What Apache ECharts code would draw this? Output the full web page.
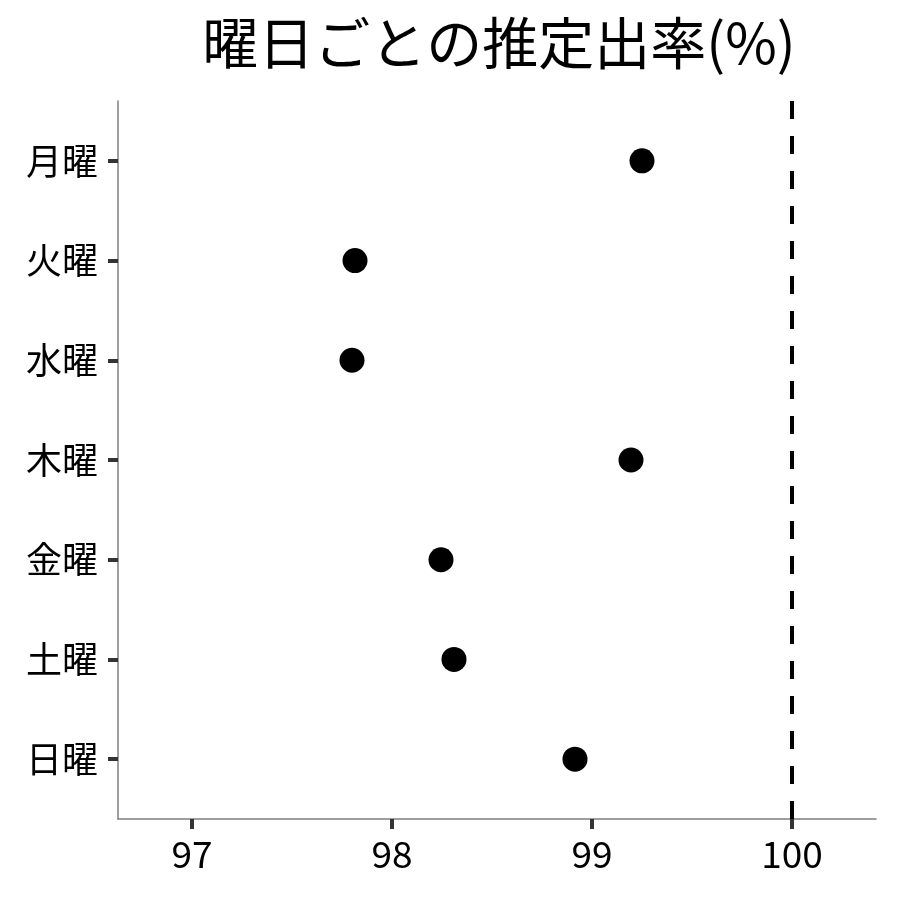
<!DOCTYPE html>
<html>
<head>
<meta charset="utf-8">
<script src="https://cdn.jsdelivr.net/npm/echarts@6/dist/echarts.min.js"></script>
<style>
  html, body { margin: 0; padding: 0; background: #fff; }
  #chart { width: 900px; height: 900px; }
</style>
</head>
<body>
<div id="chart"></div>
<script>
const days = ["月曜", "火曜", "水曜", "木曜", "金曜", "土曜", "日曜"];
const rates = [99.25, 97.815, 97.8, 99.195, 98.245, 98.31, 98.915];
const xTicks = [97, 98, 99, 100];
const yTicks = [1, 2, 3, 4, 5, 6, 7];
const refLine = 100;

const font = "Noto Sans CJK JP";
const chart = echarts.init(document.getElementById("chart"));

const points = rates.map((v, i) => [v, i + 1]);

chart.setOption({
  backgroundColor: "#fff",
  animation: false,
  title: {
    text: "曜日ごとの推定出率(%)",
    left: 494,
    textAlign: "center",
    top: 10,
    textStyle: {
      fontFamily: font,
      fontSize: 56,
      fontWeight: "normal",
      color: "#000",
    },
  },
  grid: { left: 118, right: 24, top: 101, bottom: 81 },
  xAxis: {
    type: "value",
    min: 96.63,
    max: 100.42,
    splitLine: { show: false },
    axisLine: { lineStyle: { color: "#7f7f7f", width: 1.5 } },
    axisTick: {
      customValues: xTicks,
      length: 10,
      lineStyle: { color: "#333", width: 4 },
    },
    axisLabel: {
      customValues: xTicks,
      margin: 16,
      fontFamily: font,
      fontSize: 37,
      color: "#000",
    },
  },
  yAxis: {
    type: "value",
    min: 0.4,
    max: 7.6,
    inverse: true,
    splitLine: { show: false },
    axisLine: { show: true, lineStyle: { color: "#7f7f7f", width: 1.5 } },
    axisTick: {
      show: true,
      customValues: yTicks,
      length: 10,
      lineStyle: { color: "#333", width: 4 },
    },
    axisLabel: {
      customValues: yTicks,
      margin: 20,
      fontFamily: font,
      fontSize: 36,
      color: "#000",
      formatter: (v) => days[Math.round(v) - 1] || "",
    },
  },
  series: [
    {
      type: "scatter",
      data: points,
      symbolSize: 25,
      itemStyle: { color: "#000", opacity: 1 },
      markLine: {
        silent: true,
        symbol: "none",
        label: { show: false },
        lineStyle: { color: "#000", width: 4, type: [18, 17], opacity: 1 },
        data: [{ xAxis: refLine }],
      },
    },
  ],
});
</script>
</body>
</html>
